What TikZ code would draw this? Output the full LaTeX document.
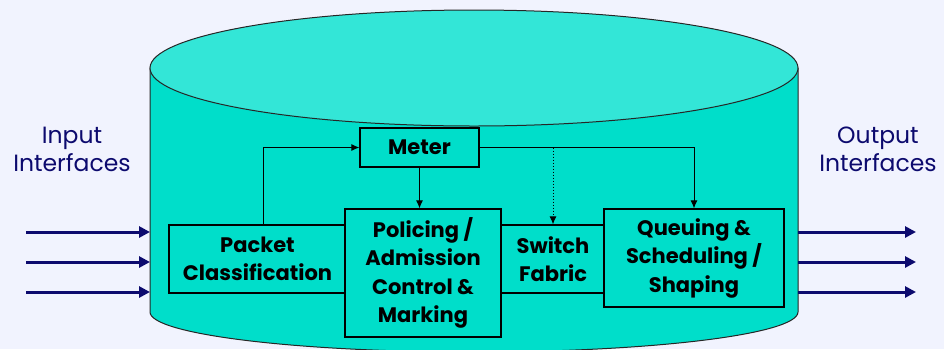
\documentclass[tikz,border=0pt]{standalone}
\usepackage{fontspec}
\setmainfont{Poppins}
\usetikzlibrary{arrows.meta}
\definecolor{bgcol}{RGB}{241,243,254}
\definecolor{bodycol}{RGB}{0,222,202}
\definecolor{topcol}{RGB}{51,230,215}
\definecolor{navy}{RGB}{12,10,110}
\tikzset{
  stagebox/.style={draw=black, line width=1.3pt, fill=bodycol, inner sep=0pt,
    align=center, font=\fontsize{21}{28.5}\selectfont\bfseries},
  flow/.style={line width=1pt, -{Latex[length=8pt,width=7pt]}},
  portarrow/.style={draw=navy, line width=3pt, -{Triangle[length=11pt,width=11pt]}},
  portlabel/.style={text=navy, align=center, font=\fontsize{23.5}{28}\selectfont}
}
\begin{document}
\begin{tikzpicture}[x=1pt,y=-1pt]
  \clip (0,0) rectangle (944,349);
  \fill[bgcol] (0,0) rectangle (944,349);

  % cylinder body and lid
  \filldraw[fill=bodycol, draw=black!85, line width=1pt]
    (150,68) -- (150,312) arc[start angle=180, end angle=360, x radius=324pt, y radius=40pt]
    -- (798,68) -- cycle;
  \filldraw[fill=topcol, draw=black!85, line width=1pt]
    (474,68) ellipse[x radius=324pt, y radius=58pt];

  % port labels
  \node[portlabel] (inlbl) at (72,149) {Input\\Interfaces};
  \node[portlabel] (outlbl) at (878,149) {Output\\Interfaces};

  % processing stages
  \node[stagebox, minimum width=177pt, minimum height=68pt] (pc) at (257.5,259) {Packet\\Classification};
  \node[stagebox, minimum width=119pt, minimum height=39pt] (meter) at (419.5,147.5) {Meter};
  \node[stagebox, minimum width=104pt, minimum height=68pt] (sw) at (553,259) {Switch\\Fabric};
  \node[stagebox, minimum width=156pt, minimum height=128pt] (pol) at (423,273) {Policing /\\Admission\\Control \&\\Marking};
  \node[stagebox, minimum width=180pt, minimum height=98pt] (q) at (694,258) {Queuing \&\\Scheduling /\\Shaping};

  % control connectors
  \draw[flow] ([xshift=5.5pt]pc.north) |- (meter.west);
  \draw[flow] (meter.south) -- (meter.south |- pol.north);
  \draw[flow] (meter.east) -| (q.north);
  \coordinate (tap) at (sw.north |- meter.east);
  \draw[flow, dotted] (tap) -- (sw.north);

  % input and output interfaces
  \foreach \i/\yy in {1/232, 2/262, 3/292} {
    \coordinate (in\i s) at (26,\yy);
    \coordinate (in\i e) at (150,\yy);
    \coordinate (out\i s) at (798,\yy);
    \coordinate (out\i e) at (916,\yy);
    \draw[portarrow] (in\i s) -- (in\i e);
    \draw[portarrow] (out\i s) -- (out\i e);
  }
\end{tikzpicture}
\end{document}
